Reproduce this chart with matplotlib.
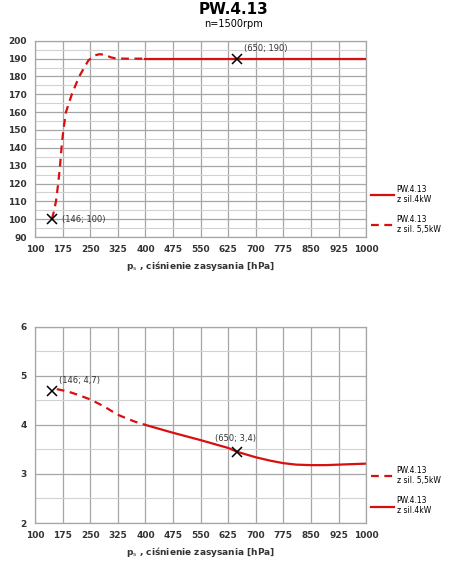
import numpy as np
import matplotlib.pyplot as plt
from matplotlib.ticker import MultipleLocator

# Data
x_ticks = [100, 175, 250, 325, 400, 475, 550, 625, 700, 775, 850, 925, 1000]

# top chart (pressure difference / flow)
top_dash_x = [146, 152, 157, 163, 168, 172, 177, 184, 200, 220, 245, 262, 275, 290, 305, 320, 350, 400]
top_dash_y = [100, 105, 110, 120, 130, 140, 150, 160, 170, 180, 189, 191.8, 192.5, 192.2, 190.8, 190.1, 190, 190]
top_solid_x = [400, 1000]
top_solid_y = [190, 190]
top_points = [(146, 100), (650, 190)]
top_labels = ["(146; 100)", "(650; 190)"]

# bottom chart (power)
bot_dash_x = [159, 190, 214, 250, 287, 324, 350, 370, 400]
bot_dash_y = [4.73, 4.68, 4.62, 4.52, 4.38, 4.21, 4.13, 4.07, 4.0]
bot_solid_x = [400, 475, 550, 625, 650, 700, 740, 775, 810, 850, 890, 925, 960, 1000]
bot_solid_y = [4.0, 3.84, 3.69, 3.53, 3.45, 3.34, 3.27, 3.22, 3.19, 3.18, 3.18, 3.19, 3.2, 3.21]
bot_points = [(146, 4.7), (650, 3.45)]
bot_labels = ["(146; 4,7)", "(650; 3,4)"]

RED = "#d80f0f"
GRID = "#a6a6a6"
GRID_MINOR = "#d2d2d2"
xlabel = r"p$_\mathrm{s}$ , ciśnienie zasysania [hPa]"

fig = plt.figure(figsize=(4.67, 5.67), dpi=100)
fig.text(0.5, 0.997, "PW.4.13", ha="center", va="top", fontsize=11, fontweight="bold")
fig.text(0.5, 0.966, "n=1500rpm", ha="center", va="top", fontsize=7)

ax1 = fig.add_axes([0.075, 0.582, 0.709, 0.346])
ax2 = fig.add_axes([0.075, 0.0776, 0.709, 0.346])


def style(ax, ymin, ymax, major, minor):
    ax.set_xlim(100, 1000)
    ax.set_ylim(ymin, ymax)
    ax.set_xticks(x_ticks)
    ax.yaxis.set_major_locator(MultipleLocator(major))
    ax.yaxis.set_minor_locator(MultipleLocator(minor))
    ax.grid(True, which="major", color=GRID, linewidth=0.9)
    ax.grid(True, which="minor", axis="y", color=GRID_MINOR, linewidth=0.8)
    ax.set_axisbelow(True)
    for s in ax.spines.values():
        s.set_color(GRID)
        s.set_linewidth(0.9)
    ax.tick_params(which="both", length=0, labelsize=6.5, pad=6)
    for lab in ax.get_xticklabels() + ax.get_yticklabels():
        lab.set_fontweight("bold")
        lab.set_color("#333333")
    ax.set_xlabel(xlabel, fontsize=6.5, fontweight="bold", color="#333333", labelpad=3)


style(ax1, 90, 200, 10, 5)
style(ax2, 2, 6, 1, 0.5)

# top chart
l1, = ax1.plot(top_solid_x, top_solid_y, color=RED, lw=1.6, label="PW.4.13\nz sil.4kW")
l2, = ax1.plot(top_dash_x, top_dash_y, color=RED, lw=1.6, dashes=(3.5, 2.5),
               label="PW.4.13\nz sil. 5,5kW")
for (px, py) in top_points:
    ax1.plot(px, py, marker="x", color="black", ms=7, mew=1.1)
ax1.text(172, 100, top_labels[0], fontsize=6, va="center", color="#333333")
ax1.text(668, 195.5, top_labels[1], fontsize=6, va="center", color="#333333")
ax1.legend(handles=[l1, l2], loc="center left", bbox_to_anchor=(1.0, 0.14),
           frameon=False, fontsize=5.5, handlelength=3.0, labelspacing=1.4,
           handletextpad=0.3, borderaxespad=0.3)

# bottom chart
l3, = ax2.plot(bot_dash_x, bot_dash_y, color=RED, lw=1.6, dashes=(3.5, 2.5),
               label="PW.4.13\nz sil. 5,5kW")
l4, = ax2.plot(bot_solid_x, bot_solid_y, color=RED, lw=1.6, label="PW.4.13\nz sil.4kW")
for (px, py) in bot_points:
    ax2.plot(px, py, marker="x", color="black", ms=7, mew=1.1)
ax2.text(165, 4.9, bot_labels[0], fontsize=6, va="center", color="#333333")
ax2.text(645, 3.73, bot_labels[1], fontsize=6, va="center", ha="center", color="#333333")
ax2.legend(handles=[l3, l4], loc="center left", bbox_to_anchor=(1.0, 0.165),
           frameon=False, fontsize=5.5, handlelength=3.0, labelspacing=1.4,
           handletextpad=0.3, borderaxespad=0.3)

fig.savefig("out.png", dpi=100)
